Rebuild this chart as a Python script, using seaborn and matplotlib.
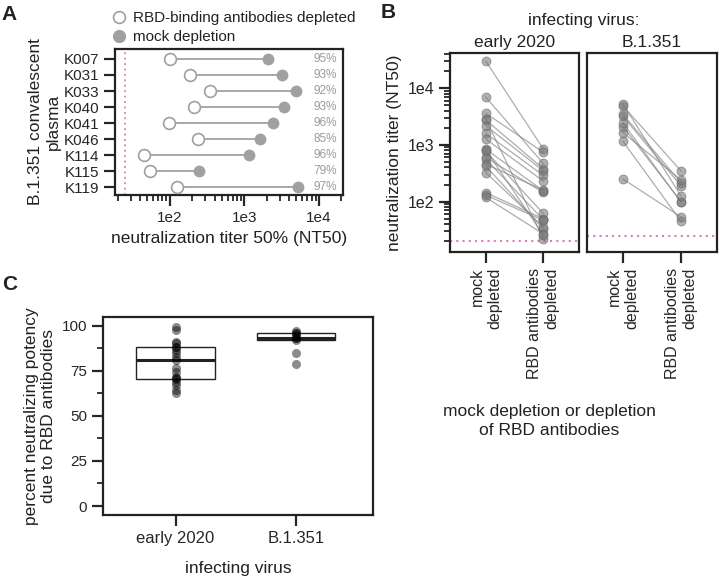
import numpy as np
import pandas as pd
import seaborn as sns
import matplotlib.pyplot as plt
from matplotlib.lines import Line2D
from matplotlib.ticker import FuncFormatter, LogLocator, MultipleLocator
import matplotlib.transforms as mtransforms

# ---- data ----
# panel A / B.1.351 facet of panel B
samples = ["K007", "K031", "K033", "K040", "K041", "K046", "K114", "K115", "K119"]
b1351_mock = [2100, 3180, 4850, 3440, 2430, 1640, 1150, 250, 5250]
b1351_rbd = [100, 190, 346, 214, 98, 242, 45, 54, 126]
b1351_pct = [95, 93, 92, 93, 96, 85, 96, 79, 97]

# early 2020 facet of panel B
early_mock = [30000, 6930, 3610, 2860, 2750, 2180, 1600, 1270, 843, 780,
              601, 562, 457, 427, 326, 144, 130, 119, 820]
early_rbd = [850, 470, 740, 22, 380, 350, 290, 230, 155, 62,
             145, 48, 160, 33, 36, 50, 47, 27, 26]

# panel C percent values
early_pct = [62.8, 64.3, 67.1, 68.9, 70.5, 70.8, 71.7, 74.5, 76.4, 81,
             82.8, 84.7, 86.5, 88, 88.4, 90.2, 91.1, 97.6, 99.1]

lod_early = 20
lod_b1351 = 25

conditions = ["mock\ndepleted", "RBD antibodies\ndepleted"]
viruses = ["early 2020", "B.1.351"]

sns.set_style("ticks")
plt.rcParams["font.family"] = ["Liberation Sans", "DejaVu Sans"]
plt.rcParams["axes.linewidth"] = 1.6
plt.rcParams["xtick.major.width"] = 1.6
plt.rcParams["ytick.major.width"] = 1.6
plt.rcParams["xtick.minor.width"] = 1.3
plt.rcParams["ytick.minor.width"] = 1.3
plt.rcParams["xtick.major.size"] = 8
plt.rcParams["ytick.major.size"] = 8
plt.rcParams["xtick.minor.size"] = 4.5
plt.rcParams["ytick.minor.size"] = 4.5
plt.rcParams["xtick.labelsize"] = 11
plt.rcParams["ytick.labelsize"] = 11
plt.rcParams["axes.labelsize"] = 12
plt.rcParams["text.color"] = "#222222"
plt.rcParams["axes.labelcolor"] = "#222222"

PINK = "#e377c2"
GRAY = "#a0a0a0"

fig = plt.figure(figsize=(7.2, 5.79), dpi=100)

def sci(v, pos):
    return f"1e{int(round(np.log10(v)))}"

# ---- panel A ----
axA = fig.add_axes([0.1597, 0.6632, 0.3167, 0.2522])
dfA = pd.DataFrame({"sample": samples, "mock": b1351_mock, "rbd": b1351_rbd})
axA.set_xscale("log")
axA.hlines(y=np.arange(len(samples)), xmin=dfA["rbd"], xmax=dfA["mock"],
           color=GRAY, lw=1.3, zorder=1)
sns.stripplot(data=dfA, x="mock", y="sample", order=samples, jitter=False,
              color=GRAY, size=8.5, linewidth=0, ax=axA, zorder=3)
sns.stripplot(data=dfA, x="rbd", y="sample", order=samples, jitter=False,
              color="white", edgecolor=GRAY, size=8.5, linewidth=1.2, ax=axA, zorder=3)
axA.axvline(lod_b1351, color=PINK, ls=(0, (1, 2)), lw=1.3, zorder=0)
tr = mtransforms.blended_transform_factory(axA.transAxes, axA.transData)
for i, p in enumerate(b1351_pct):
    axA.text(0.975, i, f"{p}%", transform=tr, ha="right", va="center",
             fontsize=8.5, color="#9a9a9a")
axA.set_xlim(18.5, 21000)
axA.set_ylim(8.48, -0.62)
axA.xaxis.set_major_locator(LogLocator(base=10, numticks=10))
axA.xaxis.set_minor_locator(LogLocator(base=10, subs=np.arange(2, 10), numticks=20))
axA.xaxis.set_major_formatter(FuncFormatter(sci))
axA.set_xlabel("neutralization titer 50% (NT50)", fontsize=12.5)
axA.set_ylabel("B.1.351 convalescent\nplasma", fontsize=12.5, labelpad=2)
legA = [Line2D([], [], marker="o", ls="", mfc="white", mec=GRAY, mew=1.2, ms=8.5,
               label="RBD-binding antibodies depleted"),
        Line2D([], [], marker="o", ls="", mfc=GRAY, mec=GRAY, ms=8.5,
               label="mock depletion")]
axA.legend(handles=legA, loc="lower left", bbox_to_anchor=(-0.05, 0.99),
           frameon=False, fontsize=11, handletextpad=0.35, borderaxespad=0,
           labelspacing=0.35, handlelength=1.2)

# ---- panel B ----
posB = [[0.625, 0.5648, 0.1792, 0.3442], [0.8153, 0.5648, 0.1806, 0.3442]]
mocks = [early_mock, b1351_mock]
rbds = [early_rbd, b1351_rbd]
lods = [lod_early, lod_b1351]
for k in range(2):
    ax = fig.add_axes(posB[k])
    n = len(mocks[k])
    dfB = pd.DataFrame({
        "donor": list(range(n)) * 2,
        "cond": [0] * n + [1] * n,
        "titer": list(mocks[k]) + list(rbds[k]),
    })
    ax.set_yscale("log")
    sns.lineplot(data=dfB, x="cond", y="titer", units="donor", estimator=None,
                 color="#8a8a8a", lw=0.9, alpha=0.7, ax=ax, zorder=1)
    sns.scatterplot(data=dfB, x="cond", y="titer", color="#7a7a7a", alpha=0.6,
                    s=42, edgecolor="#666666", linewidth=0.6, ax=ax, zorder=2)
    ax.axhline(lods[k], color=PINK, ls=(0, (1, 2)), lw=1.5, zorder=0)
    ax.set_xlim(-0.62, 1.62)
    ax.set_ylim(13, 42000)
    ax.set_xticks([0, 1])
    ax.set_xticklabels(conditions, rotation=90, ma="right", va="top", ha="center",
                       fontsize=11.5)
    ax.set_xlabel("")
    ax.set_title(viruses[k], fontsize=12.5, pad=4)
    if k == 0:
        ax.yaxis.set_major_locator(LogLocator(base=10, numticks=10))
        ax.yaxis.set_minor_locator(LogLocator(base=10, subs=np.arange(2, 10), numticks=20))
        ax.yaxis.set_major_formatter(FuncFormatter(sci))
        ax.tick_params(axis="y", labelsize=11.5)
        ax.set_ylabel("neutralization titer (NT50)", fontsize=12.5)
    else:
        ax.set_yticks([])
        ax.minorticks_off()
        ax.set_ylabel("")

fig.text(584 / 720, 1 - 20 / 579, "infecting virus:", ha="center", va="center", fontsize=12.5)
fig.text(549 / 720, 1 - 421 / 579, "mock depletion or depletion\nof RBD antibodies",
         ha="center", va="center", fontsize=12.5, linespacing=1.35)

# ---- panel C ----
axC = fig.add_axes([0.1435, 0.1105, 0.3746, 0.3425])
dfC = pd.DataFrame({
    "virus": ["early 2020"] * len(early_pct) + ["B.1.351"] * len(b1351_pct),
    "pct": list(early_pct) + list(b1351_pct),
})
sns.boxplot(data=dfC, x="virus", y="pct", order=viruses, whis=0, showfliers=False,
            showcaps=False, width=0.65, color="white", linecolor="#222222",
            linewidth=1.0, medianprops=dict(linewidth=2.2),
            whiskerprops=dict(linewidth=0), ax=axC)
sns.stripplot(data=dfC, x="virus", y="pct", order=viruses, jitter=False,
              color="black", alpha=0.45, size=6.5, linewidth=0, ax=axC, zorder=3)
axC.set_ylim(-5, 105)
axC.set_xlim(-0.6, 1.64)
axC.yaxis.set_major_locator(MultipleLocator(25))
axC.yaxis.set_minor_locator(MultipleLocator(12.5))
axC.tick_params(axis="x", labelsize=12)
axC.set_xlabel("infecting virus", fontsize=12.5, labelpad=11)
axC.set_ylabel("percent neutralizing potency\ndue to RBD antibodies", fontsize=12.5)

for ax in fig.axes:
    for s in ax.spines.values():
        s.set_visible(True)
        s.set_color("#222222")

# panel letters
fig.text(9 / 720, 1 - 14 / 579, "A", fontsize=15, fontweight="bold", ha="center", va="center")
fig.text(388 / 720, 1 - 12 / 579, "B", fontsize=15, fontweight="bold", ha="center", va="center")
fig.text(10 / 720, 1 - 285 / 579, "C", fontsize=15, fontweight="bold", ha="center", va="center")

fig.savefig("out.png", dpi=100)
